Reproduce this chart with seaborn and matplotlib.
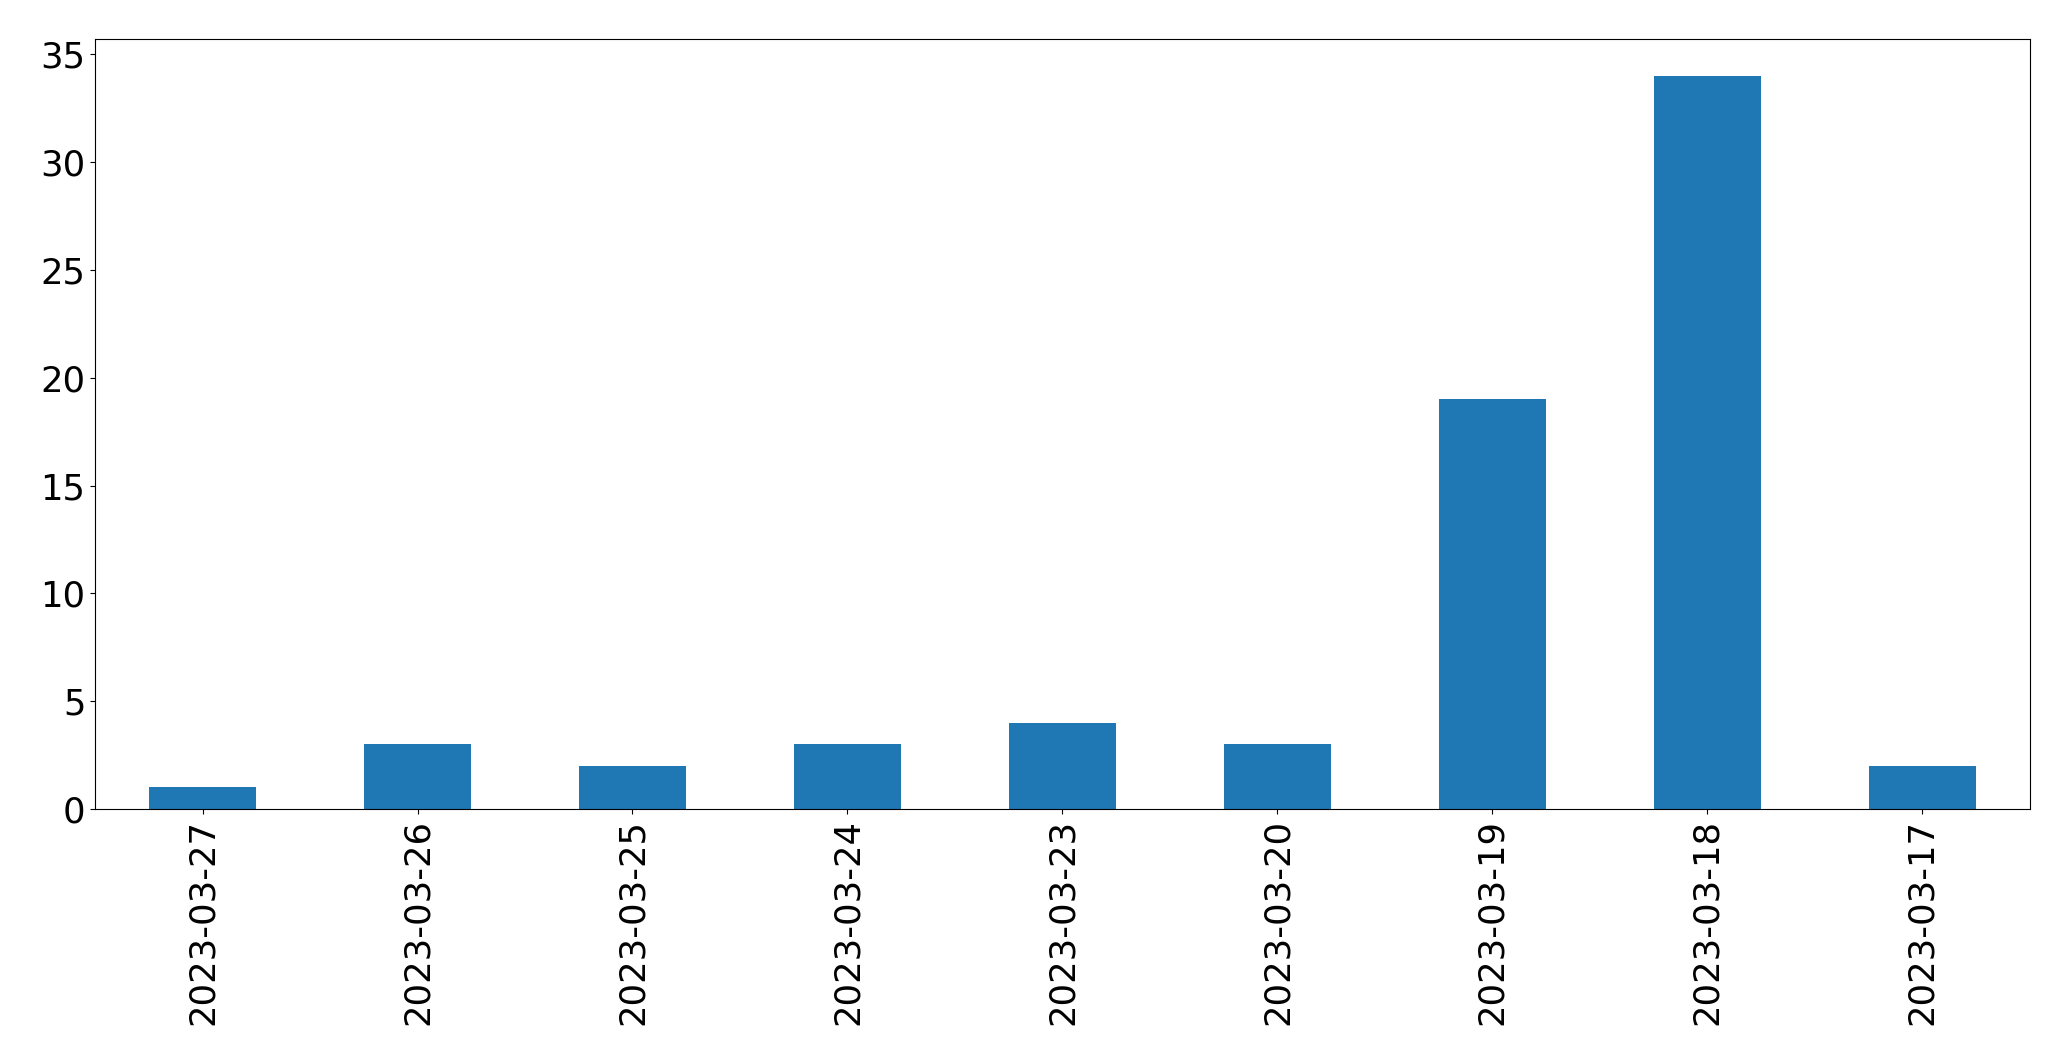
import matplotlib
matplotlib.use("Agg")
import matplotlib.pyplot as plt
import seaborn as sns
import pandas as pd

dates = ["2023-03-27", "2023-03-26", "2023-03-25", "2023-03-24", "2023-03-23",
         "2023-03-20", "2023-03-19", "2023-03-18", "2023-03-17"]
counts = [1, 3, 2, 3, 4, 3, 19, 34, 2]

df = pd.DataFrame({"date": dates, "count": counts})

plt.rcParams["font.family"] = ["DejaVu Sans"]
plt.rcParams["font.size"] = 25.5

fig = plt.figure(figsize=(20.71, 10.61), dpi=100)
ax = fig.add_axes([0.0459, 0.2375, 0.9342, 0.7255])

sns.barplot(data=df, x="date", y="count", color="#1f77b4", saturation=1,
            width=0.5, ax=ax, order=dates, linewidth=0)

ax.set_xlim(-0.5, len(dates) - 0.5)
ax.set_ylim(0, max(counts) * 1.05)
ax.set_xlabel("")
ax.set_ylabel("")
ax.tick_params(axis="x", labelrotation=90, labelsize=25.5)
ax.tick_params(axis="y", labelsize=25.5)

fig.savefig("out.png", dpi=100)
plt.close()
